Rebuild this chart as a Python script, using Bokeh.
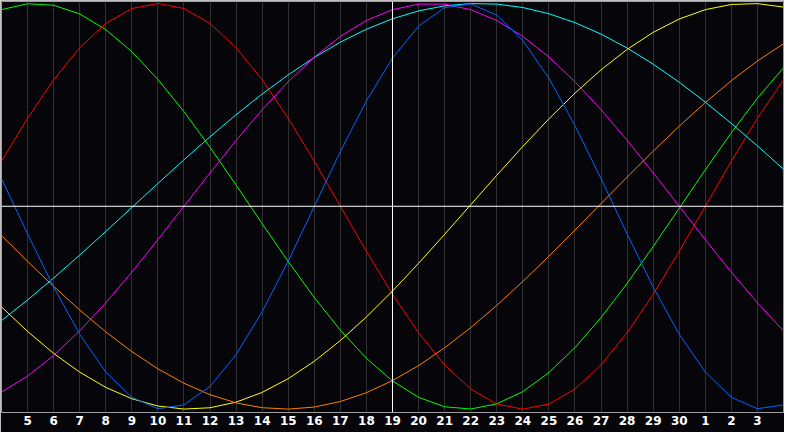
from bokeh.plotting import figure
from bokeh.models import Range1d, FixedTicker, Span
from bokeh.embed import file_html
from bokeh.resources import INLINE

# Days shown (index 0 = day 4 at left edge, index 30 = next day 4 at right edge)
days = [4, 5, 6, 7, 8, 9, 10, 11, 12, 13, 14, 15, 16, 17, 18, 19, 20, 21, 22, 23,
        24, 25, 26, 27, 28, 29, 30, 1, 2, 3, 4]
today_index = 15  # day 19

blue = [0.136, -0.136, -0.398, -0.631, -0.817, -0.942, -0.998, -0.979, -0.888, -0.731,
        -0.520, -0.270, 0.000, 0.270, 0.520, 0.731, 0.888, 0.979, 0.998, 0.942,
        0.817, 0.631, 0.398, 0.136, -0.136, -0.398, -0.631, -0.817, -0.942, -0.998, -0.979]
red = [0.2225, 0.4339, 0.6235, 0.7818, 0.9010, 0.9749, 1.0, 0.9749, 0.9010, 0.7818,
       0.6235, 0.4339, 0.2225, 0.0, -0.2225, -0.4339, -0.6235, -0.7818, -0.9010, -0.9749,
       -1.0, -0.9749, -0.9010, -0.7818, -0.6235, -0.4339, -0.2225, 0.0, 0.2225, 0.4339, 0.6235]
green = [0.9695, 0.9984, 0.9911, 0.9481, 0.8708, 0.7620, 0.6255, 0.4667, 0.2908, 0.1045,
         -0.0856, -0.2726, -0.4498, -0.6107, -0.7494, -0.8612, -0.9418, -0.9884, -0.9993, -0.9740,
         -0.9135, -0.8200, -0.6970, -0.5488, -0.3804, -0.1986, -0.0096, 0.1798, 0.3628, 0.5327, 0.6832]
magenta = [-0.9158, -0.8372, -0.7357, -0.6141, -0.4759, -0.3247, -0.1646, 0.0, 0.1646, 0.3247,
           0.4759, 0.6141, 0.7357, 0.8372, 0.9158, 0.9694, 0.9966, 0.9966, 0.9694, 0.9158,
           0.8372, 0.7357, 0.6141, 0.4759, 0.3247, 0.1646, 0.0, -0.1646, -0.3247, -0.4759, -0.6141]
yellow = [-0.4958, -0.6169, -0.7252, -0.8177, -0.8927, -0.9487, -0.9847, -0.9996, -0.9932, -0.9656,
          -0.9175, -0.8499, -0.7639, -0.6617, -0.5456, -0.4178, -0.2811, -0.1383, 0.0073, 0.1528,
          0.2950, 0.4310, 0.5577, 0.6727, 0.7732, 0.8573, 0.9232, 0.9693, 0.9948, 0.9990, 0.9820]
orange = [-0.1435, -0.2714, -0.3947, -0.5113, -0.6191, -0.7163, -0.8013, -0.8725, -0.9288, -0.9692,
          -0.9931, -0.9999, -0.9897, -0.9625, -0.9188, -0.8594, -0.7853, -0.6978, -0.5983, -0.4886,
          -0.3706, -0.2462, -0.1175, 0.0131, 0.1435, 0.2714, 0.3947, 0.5113, 0.6191, 0.7163, 0.8013]
cyan = [-0.5635, -0.4619, -0.3538, -0.2407, -0.1241, -0.0059, 0.1123, 0.2290, 0.3427, 0.4514,
        0.5536, 0.6480, 0.7336, 0.8090, 0.8729, 0.9245, 0.9631, 0.9881, 0.9994, 0.9966,
        0.9798, 0.9492, 0.9053, 0.8488, 0.7803, 0.7008, 0.6115, 0.5136, 0.4085, 0.2977, 0.1827]

series = [
    (green, "#00ff00"),
    (red, "#ff0000"),
    (cyan, "#00ffff"),
    (magenta, "#ff00ff"),
    (yellow, "#ffff00"),
    (orange, "#ff8000"),
    (blue, "#0066ff"),
]

x = list(range(len(days)))

p = figure(width=784, height=432, output_backend="svg", toolbar_location=None,
           x_range=Range1d(0, len(days) - 1), y_range=Range1d(-1.0166, 1.0095),
           y_axis_type=None, min_border_left=1, min_border_right=1,
           min_border_top=1, min_border_bottom=20)
p.background_fill_color = "#060509"
p.border_fill_color = "#060509"
p.outline_line_color = "#a0a0a0"
p.outline_line_width = 1

ticks = x[1:-1]
p.xaxis.ticker = FixedTicker(ticks=ticks)
p.xaxis.major_label_overrides = {t: str(days[t]) for t in ticks}
p.xaxis.axis_line_color = None
p.xaxis.major_tick_line_color = None
p.xaxis.minor_tick_line_color = None
p.xaxis.major_tick_out = 0
p.xaxis.major_tick_in = 0
p.xaxis.major_label_standoff = 3
p.xaxis.major_label_text_color = "#ffffff"
p.xaxis.major_label_text_font = "DejaVu Sans"
p.xaxis.major_label_text_font_style = "bold"
p.xaxis.major_label_text_font_size = "12px"

p.xgrid.ticker = FixedTicker(ticks=ticks)
p.xgrid.grid_line_color = "#303030"
p.xgrid.grid_line_width = 1
p.ygrid.grid_line_color = None

p.add_layout(Span(location=0, dimension="width", line_color="#ffffff", line_width=1))
p.add_layout(Span(location=today_index, dimension="height", line_color="#ffffff", line_width=1))

for ys, col in series:
    p.line(x, ys, line_color=col, line_width=1)

open("out.html", "w").write(file_html(p, INLINE))
